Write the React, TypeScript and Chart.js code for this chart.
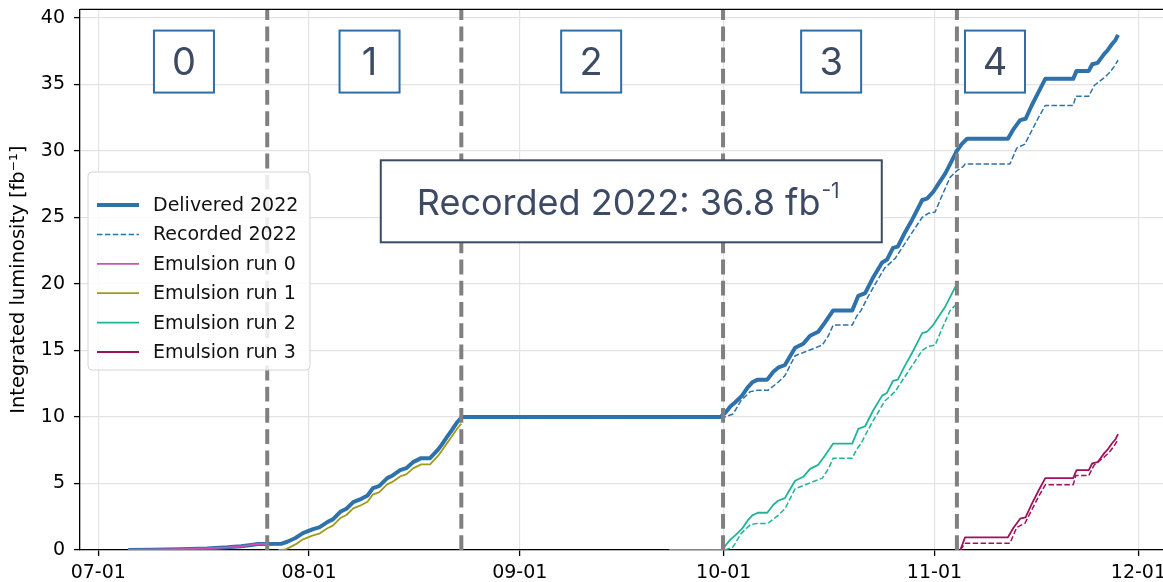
import { useEffect, useRef } from 'react';
import { Chart, registerables } from 'chart.js';

Chart.register(...registerables);

// Axis ticks: days counted from 07-01, labelled by month start
const monthTickDays = [0, 31, 62, 92, 123, 153];
const monthTickLabels = ['07-01', '08-01', '09-01', '10-01', '11-01', '12-01'];
const lumiTicks = [0, 5, 10, 15, 20, 25, 30, 35, 40];

// Integrated luminosity [fb^-1] as [day since 07-01, value]
const delivered2022: [number, number][] = [
  [4.4, 0], [8, 0.02], [12, 0.06], [16, 0.12], [19, 0.2], [21, 0.28], [22.5, 0.38], [23.5, 0.45],
  [27, 0.47], [27.8, 0.62], [29, 0.9], [30.1, 1.27], [31.6, 1.57], [32.5, 1.7], [33.7, 2.1],
  [34.5, 2.3], [35.6, 2.87], [36.5, 3.1], [37.5, 3.6], [38.5, 3.8], [39.6, 4.1], [40.4, 4.65],
  [41.3, 4.8], [42.5, 5.4], [43.3, 5.6], [44.4, 6.0], [45.3, 6.15], [46.3, 6.6], [47.5, 6.9],
  [48.8, 6.9], [49.9, 7.5], [50.5, 7.9], [51.3, 8.5], [52, 9.0], [52.8, 9.6], [53.5, 10.0],
  [91.5, 10.0], [92.2, 10.3], [93, 10.8], [93.7, 11.1], [94.7, 11.6], [95.5, 12.2], [96.2, 12.6],
  [97, 12.8], [98.4, 12.8], [99.3, 13.4], [100, 13.7], [101, 13.9], [101.8, 14.6], [102.5, 15.2],
  [103.7, 15.5], [104.7, 16.1], [105.9, 16.4], [106.9, 17.1], [108.1, 18.0], [110.9, 18.0],
  [111.8, 19.1], [112.8, 19.3], [114, 20.5], [115.3, 21.6], [116, 21.8], [116.9, 22.7],
  [117.6, 22.8], [118.6, 23.8], [119.7, 24.8], [120.5, 25.6], [121.2, 26.3], [121.9, 26.4],
  [122.8, 26.9], [123.7, 27.6], [124.6, 28.3], [125.6, 29.3], [126.3, 30.0], [127, 30.5],
  [127.8, 30.9], [133.8, 30.9], [134.6, 31.6], [135.6, 32.3], [136.4, 32.4], [137.3, 33.4],
  [138.3, 34.4], [139.3, 35.4], [143.4, 35.4], [143.9, 36.0], [145.7, 36.0], [146.2, 36.5],
  [147, 36.6], [148, 37.3], [148.4, 37.5], [149.1, 38.0], [149.6, 38.3], [150, 38.7],
];

const recorded2022: [number, number][] = [
  [4.4, 0], [8, 0.02], [12, 0.06], [16, 0.12], [19, 0.2], [21, 0.28], [22.5, 0.38], [23.5, 0.45],
  [27, 0.47], [27.8, 0.62], [29, 0.9], [30.1, 1.27], [31.6, 1.57], [32.5, 1.7], [33.7, 2.1],
  [34.5, 2.3], [35.6, 2.87], [36.5, 3.1], [37.5, 3.6], [38.5, 3.8], [39.6, 4.1], [40.4, 4.65],
  [41.3, 4.8], [42.5, 5.4], [43.3, 5.6], [44.4, 6.0], [45.3, 6.15], [46.3, 6.6], [47.5, 6.9],
  [48.8, 6.9], [49.9, 7.5], [50.5, 7.9], [51.3, 8.5], [52, 9.0], [52.8, 9.6], [53.5, 10.0],
  [91.5, 10.0], [92.2, 10.0], [93.3, 10.2], [93.7, 10.5], [94.5, 11.2], [95.9, 11.9], [97, 12.0],
  [98.5, 12.0], [100, 12.6], [101, 13.1], [102.5, 14.6], [104, 14.9], [105.5, 15.2], [106.5, 15.4],
  [107.4, 16.1], [108.1, 16.9], [110.9, 16.9], [111.6, 17.6], [112.2, 18.0], [113.2, 19.0],
  [114.3, 20.0], [115.7, 21.2], [117.2, 21.9], [119, 23.3], [121.2, 25.0], [122.1, 25.3],
  [123.1, 25.4], [124, 26.5], [125.3, 28.0], [126.3, 28.5], [127.2, 28.8], [127.5, 29.0],
  [134.1, 29.0], [135.1, 30.2], [136.3, 30.5], [137.3, 31.5], [138.3, 32.5], [139.3, 33.4],
  [143.4, 33.4], [143.8, 34.1], [145.7, 34.1], [146.5, 34.9], [148, 35.5], [148.8, 35.9],
  [149.4, 36.3], [150, 36.8],
];

const emulsionRun0: [number, number][] = [
  [4.4, 0], [8, 0.02], [12, 0.06], [16, 0.12], [19, 0.2], [21, 0.28], [22.5, 0.38], [23.5, 0.45],
  [24.85, 0.46],
];

const emulsionRun1: [number, number][] = [
  [26.5, 0], [27.3, 0.02], [27.8, 0.1], [29, 0.42], [30.1, 0.8], [31.6, 1.1], [32.5, 1.23],
  [33.7, 1.63], [34.5, 1.83], [35.6, 2.4], [36.5, 2.63], [37.5, 3.13], [38.5, 3.33], [39.6, 3.63],
  [40.4, 4.18], [41.3, 4.33], [42.5, 4.93], [43.3, 5.13], [44.4, 5.53], [45.3, 5.68], [46.3, 6.13],
  [47.5, 6.43], [48.8, 6.43], [49.9, 7.03], [50.5, 7.43], [51.3, 8.03], [52, 8.53], [52.8, 9.13],
  [53.4, 9.5],
];

const emulsionRun2: [number, number][] = [
  [84, 0], [91.9, 0], [92.2, 0.3], [93, 0.8], [93.7, 1.1], [94.7, 1.6], [95.5, 2.2], [96.2, 2.6],
  [97, 2.8], [98.4, 2.8], [99.3, 3.4], [100, 3.7], [101, 3.9], [101.8, 4.6], [102.5, 5.2],
  [103.7, 5.5], [104.7, 6.1], [105.9, 6.4], [106.9, 7.1], [108.1, 8.0], [110.9, 8.0], [111.8, 9.1],
  [112.8, 9.3], [114, 10.5], [115.3, 11.6], [116, 11.8], [116.9, 12.7], [117.6, 12.8], [118.6, 13.8],
  [119.7, 14.8], [120.5, 15.6], [121.2, 16.3], [121.9, 16.4], [122.8, 16.9], [123.7, 17.6],
  [124.6, 18.3], [125.6, 19.3], [126.3, 20.0],
];

const emulsionRun2Recorded: [number, number][] = [
  [84, 0], [92.2, 0], [93.3, 0.2], [93.7, 0.5], [94.5, 1.2], [95.9, 1.9], [97, 2.0], [98.5, 2.0],
  [100, 2.6], [101, 3.1], [102.5, 4.6], [104, 4.9], [105.5, 5.2], [106.5, 5.4], [107.4, 6.1],
  [108.1, 6.9], [110.9, 6.9], [111.6, 7.6], [112.2, 8.0], [113.2, 9.0], [114.3, 10.0], [115.7, 11.2],
  [117.2, 11.9], [119, 13.3], [121.2, 15.0], [122.1, 15.3], [123.1, 15.4], [124, 16.5],
  [125.3, 18.0], [126.3, 18.5],
];

const emulsionRun3: [number, number][] = [
  [126.8, 0], [127.5, 0.95], [133.8, 0.95], [134.6, 1.65], [135.6, 2.35], [136.4, 2.45],
  [137.3, 3.45], [138.3, 4.45], [139.3, 5.4], [143.4, 5.4], [143.9, 6.0], [145.7, 6.0],
  [146.2, 6.5], [147, 6.6], [148, 7.3], [148.4, 7.5], [149.1, 8.0], [149.6, 8.3], [150, 8.7],
];

const emulsionRun3Recorded: [number, number][] = [
  [126.8, 0], [127.5, 0.5], [134.1, 0.5], [135.1, 1.7], [136.3, 2.0], [137.3, 3.0], [138.3, 4.0],
  [139.3, 4.9], [143.4, 4.9], [143.8, 5.6], [145.7, 5.6], [146.5, 6.4], [148, 7.0], [148.8, 7.4],
  [149.4, 7.8], [150, 8.3],
];

// Run periods: boundaries, labels and where each label sits
const runBoundaryDays = [24.85, 53.4, 91.9, 126.3];
const runLabels = ['0', '1', '2', '3', '4'];
const runLabelDays = [12.6, 39.9, 72.5, 107.8, 131.9];
const runLabelLumi = 36.7;
const recordedTotal = 36.8;
const summaryDay = 78.4;
const summaryLumi = 26.2;

const BLUE = '#2f72ab';
const PURPLE = '#c653b6';
const OLIVE = '#9f9b1e';
const TEAL = '#1fb49a';
const CRIMSON = '#9e125c';
const SLATE = '#3d4a63';
const TICK_FONT = { family: '"DejaVu Sans"', size: 19 };
// the canvas is lifted so the plot frame starts just below the page top
const CANVAS_LIFT = 11;

const toPoints = (rows: [number, number][]) => rows.map(([x, y]) => ({ x, y }));

const line = (label: string, rows: [number, number][], color: string, width: number, order: number, dash: number[] = [], legend = true) => ({
  label,
  data: toPoints(rows),
  borderColor: color,
  backgroundColor: color,
  borderWidth: width,
  borderDash: dash,
  pointRadius: 0,
  pointHoverRadius: 0,
  tension: 0,
  fill: false,
  borderJoinStyle: 'round' as const,
  order,
  showInLegend: legend,
});

const overlayPlugin = {
  id: 'runOverlay',
  afterDatasetsDraw(chart: any) {
    const { ctx, chartArea, scales } = chart;
    const xs = scales.x;
    ctx.save();
    // run boundaries
    ctx.strokeStyle = '#808080';
    ctx.lineWidth = 4;
    ctx.setLineDash([14.8, 6.4]);
    for (const d of runBoundaryDays) {
      const x = xs.getPixelForValue(d);
      ctx.beginPath();
      ctx.moveTo(x, chartArea.bottom);
      ctx.lineTo(x, chartArea.top);
      ctx.stroke();
    }
    ctx.setLineDash([]);
    // top spine
    ctx.strokeStyle = '#000';
    ctx.lineWidth = 1.3;
    ctx.beginPath();
    ctx.moveTo(chartArea.left, chartArea.top);
    ctx.lineTo(chartArea.right, chartArea.top);
    ctx.stroke();
    ctx.restore();
  },
  afterDraw(chart: any) {
    const { ctx, chartArea, scales } = chart;
    const xs = scales.x;
    const ys = scales.y;
    ctx.save();

    // run number boxes
    ctx.font = '38px Inter';
    ctx.textAlign = 'center';
    ctx.textBaseline = 'middle';
    runLabels.forEach((t, i) => {
      const cx = xs.getPixelForValue(runLabelDays[i]);
      const cy = ys.getPixelForValue(runLabelLumi);
      ctx.fillStyle = '#fff';
      ctx.fillRect(cx - 30, cy - 31, 60, 62);
      ctx.strokeStyle = '#2e6da6';
      ctx.lineWidth = 2;
      ctx.strokeRect(cx - 30, cy - 31, 60, 62);
      ctx.fillStyle = SLATE;
      ctx.fillText(t, cx, cy + 2);
    });

    // recorded total box
    const bx = xs.getPixelForValue(summaryDay);
    const by = ys.getPixelForValue(summaryLumi);
    const bw = 501;
    const bh = 82;
    ctx.fillStyle = '#fff';
    ctx.fillRect(bx - bw / 2, by - bh / 2, bw, bh);
    ctx.strokeStyle = SLATE;
    ctx.lineWidth = 2;
    ctx.strokeRect(bx - bw / 2, by - bh / 2, bw, bh);
    ctx.fillStyle = SLATE;
    ctx.textAlign = 'left';
    ctx.textBaseline = 'alphabetic';
    ctx.font = '36px Inter';
    const main = `Recorded 2022: ${recordedTotal} fb`;
    const tx = bx - bw / 2 + 36;
    const ty = by + 14;
    ctx.fillText(main, tx, ty);
    const mw = ctx.measureText(main).width;
    ctx.font = '21px Inter';
    ctx.fillText('-1', tx + mw + 1, ty - 17);

    // legend
    const lx = 88;
    const ly = 172 + CANVAS_LIFT;
    const lw = 222;
    const lh = 198;
    ctx.beginPath();
    ctx.roundRect(lx, ly, lw, lh, 4);
    ctx.fillStyle = 'rgba(255,255,255,0.85)';
    ctx.fill();
    ctx.strokeStyle = '#d4d4d4';
    ctx.lineWidth = 1;
    ctx.stroke();
    ctx.font = '19px "DejaVu Sans"';
    ctx.textBaseline = 'middle';
    let row = 0;
    chart.data.datasets.forEach((ds: any) => {
      if (!ds.showInLegend) return;
      const y = ly + 33 + row * 29.4;
      ctx.strokeStyle = ds.borderColor;
      ctx.lineWidth = ds.borderWidth;
      ctx.setLineDash(ds.borderDash);
      ctx.beginPath();
      ctx.moveTo(97, y);
      ctx.lineTo(139, y);
      ctx.stroke();
      ctx.setLineDash([]);
      ctx.fillStyle = '#111';
      ctx.fillText(ds.label, 153, y + 1);
      row++;
    });

    // y-axis title
    ctx.translate(19, (chartArea.top + chartArea.bottom) / 2);
    ctx.rotate(-Math.PI / 2);
    ctx.textAlign = 'center';
    ctx.font = '19.5px "DejaVu Sans"';
    ctx.fillStyle = '#000';
    ctx.fillText('Integrated luminosity [fb⁻¹]', 0, 0);
    ctx.restore();
  },
};

export default function App() {
  const canvasRef = useRef<HTMLCanvasElement | null>(null);

  useEffect(() => {
    if (!canvasRef.current) return;
    const chart = new Chart(canvasRef.current, {
      type: 'line',
      data: {
        datasets: [
          line('Delivered 2022', delivered2022, BLUE, 4, 10),
          line('Recorded 2022', recorded2022, BLUE, 1.5, 9, [5.5, 2.4]),
          line('Emulsion run 0', emulsionRun0, PURPLE, 1.8, 8),
          line('Emulsion run 1', emulsionRun1, OLIVE, 1.8, 7),
          line('Emulsion run 2', emulsionRun2, TEAL, 1.8, 6),
          line('Emulsion run 2 recorded', emulsionRun2Recorded, TEAL, 1.5, 5, [5.5, 2.4], false),
          line('Emulsion run 3', emulsionRun3, CRIMSON, 1.8, 4),
          line('Emulsion run 3 recorded', emulsionRun3Recorded, CRIMSON, 1.5, 3, [5.5, 2.4], false),
        ] as any,
      },
      options: {
        animation: false,
        responsive: false,
        devicePixelRatio: 1,
        events: [],
        layout: { padding: { top: 9, right: 20, left: 0, bottom: 0 } },
        plugins: { legend: { display: false }, tooltip: { enabled: false } },
        scales: {
          x: {
            type: 'linear',
            min: -2.69,
            max: 165,
            afterBuildTicks: (s: any) => {
              s.ticks = monthTickDays.map((v) => ({ value: v }));
            },
            afterFit: (s: any) => {
              s.height = 32;
            },
            ticks: {
              autoSkip: false,
              maxRotation: 0,
              padding: 6,
              color: '#000',
              font: TICK_FONT,
              callback: (v: any) => monthTickLabels[monthTickDays.indexOf(Number(v))] ?? '',
            },
            grid: { color: '#e3e3e3', lineWidth: 1.2, tickLength: 6, tickColor: '#000', tickWidth: 1.3 },
            border: { color: '#000', width: 1.3 },
          },
          y: {
            type: 'linear',
            min: 0,
            max: 40.62,
            afterBuildTicks: (s: any) => {
              s.ticks = lumiTicks.map((v) => ({ value: v }));
            },
            afterFit: (s: any) => {
              s.width = 80;
            },
            ticks: { padding: 9, color: '#000', font: TICK_FONT },
            grid: { color: '#e3e3e3', lineWidth: 1.2, tickLength: 6, tickColor: '#000', tickWidth: 1.3 },
            border: { color: '#000', width: 1.3 },
          },
        },
      },
      plugins: [overlayPlugin],
    });
    return () => chart.destroy();
  }, []);

  return (
    <div style={{ position: 'fixed', left: 0, top: 0, width: 1163, height: 582, overflow: 'hidden', background: '#fff' }}>
      <canvas ref={canvasRef} width={1240} height={582 + CANVAS_LIFT} style={{ display: 'block', marginTop: -CANVAS_LIFT }} />
    </div>
  );
}
